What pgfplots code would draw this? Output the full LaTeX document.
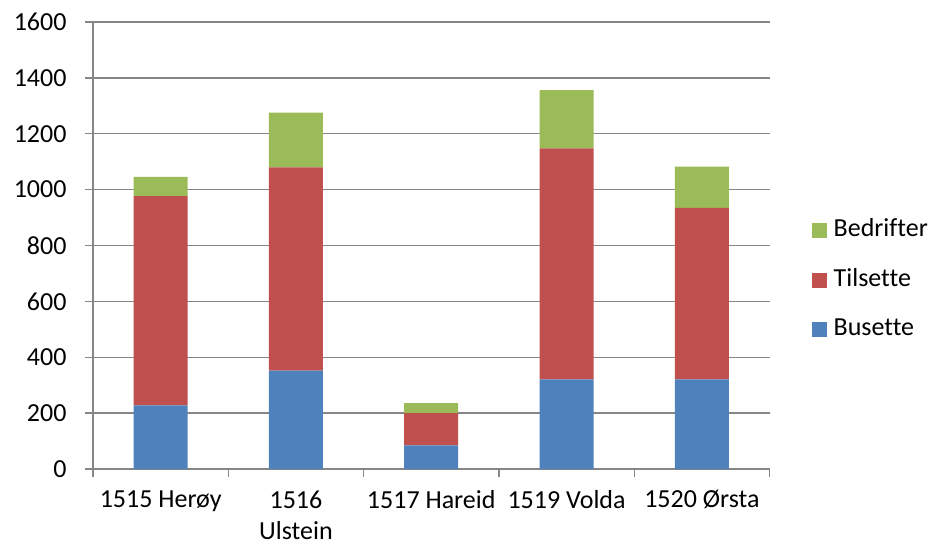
\documentclass[border=0pt]{standalone}
\usepackage{pgfplots}
\pgfplotsset{compat=1.18}
\usepackage{fontspec}
\setmainfont{Carlito}[Ligatures=CommonOff]
\definecolor{cblue}{HTML}{4F81BD}
\definecolor{cred}{HTML}{C0504D}
\definecolor{cgreen}{HTML}{9BBB59}
\definecolor{cgrid}{HTML}{868686}
\begin{document}
\begin{tikzpicture}
\begin{axis}[name=ax,
  scale only axis, width=676.5bp, height=447bp,
  ybar stacked, bar width=54bp,
  xmin=-0.5, xmax=4.5, ymin=0, ymax=1600,
  ytick={0,200,...,1600},
  xtick={-0.5,0.5,1.5,2.5,3.5,4.5}, xticklabels={},
  extra x ticks={0,1,2,3,4},
  extra x tick labels={1515 Herøy,{1516\\Ulstein},1517 Hareid,1519 Volda,1520 Ørsta},
  extra x tick style={major tick length=0pt, grid=none},
  axis x line*=bottom, axis y line*=left,
  axis line style={cgrid, line width=1.3bp, -},
  ymajorgrids, grid style={cgrid, line width=1.3bp},
  tick style={cgrid, line width=1.3bp},
  tick align=outside, major tick length=8bp,
  tick label style={font=\fontsize{26bp}{31bp}\selectfont, text=black},
  yticklabel style={xshift=-15bp},
  xticklabel style={align=center, yshift=-18bp},
  /pgf/number format/assume math mode=true,
  /pgf/number format/1000 sep={},
  legend image code/.code={\fill[#1] (0bp,-7.5bp) rectangle (15bp,7.5bp);},
  reverse legend,
  legend style={draw=none, fill=none, inner sep=0pt, at={(1.0625,0.4217)}, anchor=west,
    row sep=25.5bp, column sep=6.7bp,
    font=\fontsize{26bp}{31bp}\selectfont,
    nodes={inner sep=0pt, anchor=west, text height=18bp, text depth=6bp}},
]
\addplot[fill=cblue, draw=none] coordinates {(0,228) (1,352) (2,85) (3,321) (4,321)};
\addlegendentry{Busette}
\addplot[fill=cred, draw=none] coordinates {(0,749) (1,728) (2,115) (3,827) (4,614)};
\addlegendentry{Tilsette}
\addplot[fill=cgreen, draw=none] coordinates {(0,69) (1,196) (2,36) (3,208) (4,147)};
\addlegendentry{Bedrifter}
\end{axis}
\pgfresetboundingbox
\path (ax.south west) ++(-93bp,-79bp) rectangle ++(931bp,548bp);
\end{tikzpicture}
\end{document}
